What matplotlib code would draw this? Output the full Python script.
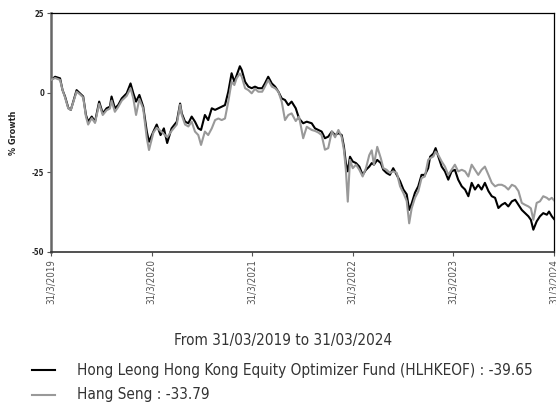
import matplotlib
matplotlib.use("Agg")
import matplotlib.pyplot as plt
from matplotlib.lines import Line2D
import pandas as pd

plt.rcParams['font.family'] = ['DejaVu Sans']
plt.rcParams['font.stretch'] = 'condensed'

# days after 31/03/2019
days = [0, 15, 33, 42, 51, 63, 72, 81, 93, 105, 117, 127, 135, 148, 160, 175, 188, 202,
        214, 220, 232, 244, 257, 275, 289, 299, 309, 321, 335, 348, 356, 372, 384, 398,
        410, 422, 438, 457, 469, 475, 487, 499, 511, 523, 535, 545, 559, 571, 584, 596,
        608, 620, 632, 644, 656, 666, 674, 686, 693, 705, 717, 729, 741, 753, 767, 777,
        789, 802, 814, 826, 838, 850, 862, 874, 889, 901, 916, 929, 947, 959, 971, 983,
        995, 1007, 1020, 1032, 1044, 1056, 1064, 1071, 1078, 1086, 1096, 1108, 1120, 1132,
        1144, 1156, 1165, 1173, 1185, 1198, 1207, 1219, 1231, 1243, 1256, 1268, 1280, 1292,
        1301, 1310, 1322, 1334, 1346, 1358, 1370, 1377, 1389, 1397, 1407, 1419, 1431, 1443,
        1455, 1467, 1479, 1492, 1504, 1516, 1528, 1540, 1552, 1564, 1576, 1589, 1601, 1613,
        1625, 1637, 1649, 1661, 1674, 1686, 1698, 1710, 1722, 1734, 1743, 1752, 1764, 1776,
        1788, 1801, 1809, 1819, 1827]

fund = [4.0, 5.0, 4.5, 0.8, -1.2, -4.8, -5.4, -2.8, 0.8, -0.2, -1.2, -7.0, -9.1, -7.5,
        -9.1, -2.8, -6.5, -4.9, -4.4, -1.2, -4.9, -3.9, -1.8, -0.2, 2.9, -0.2, -2.8, -0.7,
        -4.4, -12.2, -15.4, -12.2, -10.0, -13.3, -11.2, -15.8, -11.2, -9.1, -3.4, -6.5,
        -9.1, -9.6, -7.5, -9.1, -11.2, -11.7, -7.0, -8.6, -4.9, -5.4, -4.9, -4.4, -3.9,
        0.3, 6.1, 3.4, 5.4, 8.3, 7.1, 3.4, 1.9, 1.4, 1.9, 1.4, 1.4, 2.9, 5.0, 2.9, 1.9,
        0.3, -1.8, -2.3, -3.9, -2.8, -4.9, -8.1, -9.6, -9.1, -9.6, -11.2, -11.7, -12.2,
        -14.3, -13.8, -12.2, -13.3, -12.7, -13.3, -16.9, -22.1, -24.7, -20.1, -21.6, -22.1,
        -23.2, -25.8, -24.2, -23.2, -22.1, -22.6, -21.1, -22.1, -24.2, -25.2, -25.8, -23.7,
        -25.8, -27.8, -30.4, -31.9, -36.8, -34.8, -31.4, -29.4, -25.8, -25.8, -23.7, -20.1,
        -19.1, -17.4, -20.1, -23.2, -24.7, -27.3, -24.7, -24.2, -27.3, -29.4, -30.4, -32.5,
        -28.3, -30.4, -28.9, -30.4, -28.3, -30.9, -32.5, -33.0, -36.2, -35.2, -34.6, -35.7,
        -34.1, -33.6, -35.2, -36.8, -37.8, -38.8, -39.9, -43.0, -40.4, -38.8, -37.8, -38.3,
        -37.3, -38.8, -39.65]

hang_seng = [4.0, 4.6, 4.0, 0.8, -1.5, -5.0, -5.4, -3.0, 0.3, -0.5, -1.5, -7.5, -10.0,
             -8.0, -9.5, -3.5, -7.0, -5.5, -5.0, -2.5, -6.0, -4.5, -2.5, -1.0, 1.4, -1.8,
             -7.0, -2.0, -5.0, -14.3, -18.0, -12.5, -11.0, -12.0, -13.0, -14.0, -12.0,
             -10.0, -3.8, -7.0, -10.0, -10.6, -9.1, -12.2, -13.3, -16.4, -12.2, -13.3,
             -11.2, -8.6, -8.1, -8.6, -8.1, -2.8, 3.4, 2.4, 4.5, 6.0, 5.0, 1.4, 0.8, -0.2,
             1.2, 0.3, 0.3, 1.9, 4.0, 1.9, 1.4, 0.3, -2.8, -8.6, -7.0, -6.5, -8.9, -7.5,
             -14.3, -10.7, -11.7, -12.0, -12.5, -13.3, -17.9, -17.4, -12.2, -14.0, -11.7,
             -14.0, -18.0, -24.2, -34.2, -21.1, -23.7, -22.6, -24.2, -26.3, -23.7, -19.6,
             -18.1, -22.6, -17.0, -20.6, -23.7, -24.2, -25.2, -24.7, -25.2, -29.4, -31.5,
             -34.0, -41.0, -36.3, -33.0, -31.0, -26.8, -26.3, -21.1, -20.6, -20.0, -18.5,
             -19.6, -21.6, -23.2, -25.8, -24.2, -22.6, -24.7, -24.2, -24.7, -26.3, -22.6,
             -24.2, -25.8, -24.2, -23.2, -25.8, -28.3, -29.4, -28.9, -28.9, -29.4, -30.4,
             -28.9, -29.4, -30.9, -34.6, -35.2, -35.7, -36.3, -39.9, -34.6, -34.1, -32.5,
             -33.0, -33.6, -33.0, -33.79]

start = pd.Timestamp("2019-03-31")
dates = start + pd.to_timedelta(days, unit="D")
tick_dates = [pd.Timestamp(f"{y}-03-31") for y in range(2019, 2025)]
tick_labels = [f"31/3/{y}" for y in range(2019, 2025)]
yticks = [25, 0, -25, -50]

fig = plt.figure(figsize=(5.56, 4.03), dpi=100)
ax = fig.add_axes([0.0917, 0.3747, 0.9047, 0.593])

ax.plot(dates, fund, color="black", lw=1.5, zorder=2)
ax.plot(dates, hang_seng, color="#999999", lw=1.5, zorder=3)

ax.set_xlim(tick_dates[0], tick_dates[-1])
ax.set_ylim(-50, 25)
ax.set_yticks(yticks)
ax.set_yticklabels([str(v) for v in yticks], fontsize=5.5, fontweight="bold", color="#222222")
ax.set_xticks(tick_dates)
ax.set_xticklabels(tick_labels, rotation=90, fontsize=7, color="#555555")
ax.tick_params(axis="both", length=3, width=0.8, color="#555555", pad=2)
ax.set_ylabel("% Growth", fontsize=6.5, fontweight="bold", color="#222222", labelpad=10)

for side in ["top", "right"]:
    ax.spines[side].set_color("black")
    ax.spines[side].set_linewidth(0.9)
ax.spines["left"].set_color("#666666")
ax.spines["left"].set_linewidth(1.8)
ax.spines["bottom"].set_color("#333333")
ax.spines["bottom"].set_linewidth(1.2)

fig.text(283 / 556, 1 - 340 / 403, "From 31/03/2019 to 31/03/2024", ha="center", va="center",
         fontsize=11, color="#333333")

fig.add_artist(Line2D([32 / 556, 55 / 556], [1 - 370 / 403] * 2, color="black", lw=1.5))
fig.add_artist(Line2D([32 / 556, 55 / 556], [1 - 395 / 403] * 2, color="#999999", lw=1.5))
fig.text(77 / 556, 1 - 370 / 403, "Hong Leong Hong Kong Equity Optimizer Fund (HLHKEOF) : -39.65",
         va="center", fontsize=11, color="#333333")
fig.text(77 / 556, 1 - 395 / 403, "Hang Seng : -33.79", va="center", fontsize=11,
         color="#333333")

fig.savefig("out.png", dpi=100)
